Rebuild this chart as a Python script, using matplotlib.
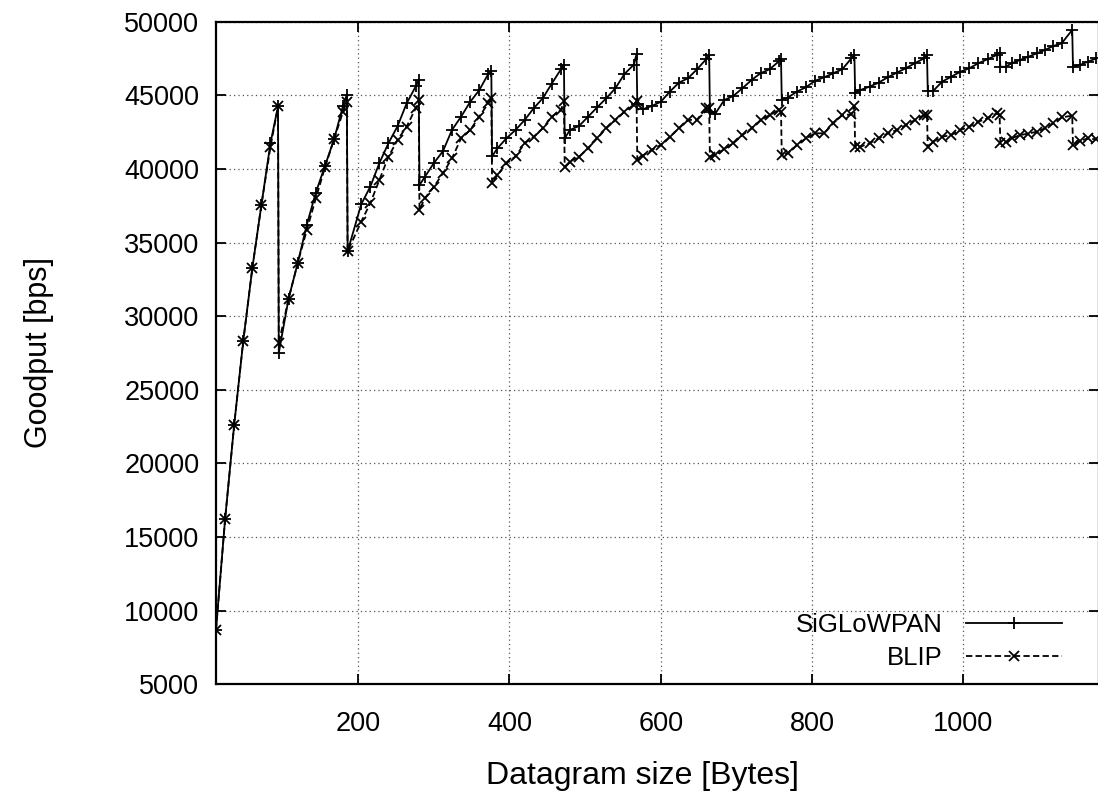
import matplotlib
matplotlib.use("Agg")
import matplotlib.pyplot as plt

plt.rcParams["font.family"] = ["Liberation Sans", "DejaVu Sans"]

sizes = [12, 24, 36, 48, 60, 72, 84, 94, 95,
         108, 120, 132, 144, 156, 168, 180, 185, 186,
         204, 216, 228, 240, 252, 264, 276, 280, 281,
         288, 300, 312, 324, 336, 348, 360, 372, 376, 377,
         384, 396, 408, 420, 432, 444, 456, 468, 472, 473,
         480, 492, 504, 516, 528, 540, 552, 564, 568, 569,
         576, 588, 600, 612, 624, 636, 648, 660, 664, 665,
         672, 684, 696, 708, 720, 732, 744, 756, 759, 760,
         768, 780, 792, 804, 816, 828, 840, 852, 856, 857,
         864, 876, 888, 900, 912, 924, 936, 948, 952, 953,
         960, 972, 984, 996, 1008, 1020, 1032, 1044, 1048, 1049,
         1056, 1064, 1075, 1086, 1097, 1108, 1119, 1130, 1144, 1145,
         1154, 1165, 1176]

siglowpan = [8700, 16200, 22600, 28300, 33250, 37550, 41750, 44250, 27500,
             31200, 33600, 36200, 38400, 40200, 42000, 44300, 45050, 34400,
             37600, 38800, 40400, 41750, 42900, 44450, 45600, 46050, 38900,
             39450, 40400, 41200, 42650, 43550, 44550, 45350, 46450, 46650, 40850,
             41400, 42080, 42650, 43320, 44120, 44800, 45800, 46770, 47060, 42080,
             42650, 42920, 43550, 44190, 44800, 45480, 46450, 47060, 47790, 44400,
             44050, 44270, 44560, 45250, 45860, 46160, 46770, 47450, 47740, 43850,
             43750, 44680, 44960, 45480, 46040, 46500, 46770, 47300, 47450, 44680,
             44850, 45250, 45550, 45990, 46220, 46500, 46770, 47510, 47740, 45180,
             45360, 45590, 45860, 46220, 46540, 46840, 47180, 47510, 47740, 45290,
             45290, 45930, 46260, 46600, 46840, 47180, 47450, 47740, 47890, 46940,
             46940, 47180, 47400, 47620, 47850, 48080, 48350, 48530, 49440, 46940,
             47060, 47290, 47510]

blip = [8700, 16200, 22600, 28300, 33250, 37550, 41500, 44250, 28150,
        31200, 33600, 35850, 38000, 40100, 42000, 43900, 44550, 34400,
        36420, 37670, 39250, 40830, 41970, 42870, 44120, 44680, 37210,
        38000, 38790, 39700, 40720, 42080, 42640, 43550, 44460, 44800, 39020,
        39590, 40380, 40850, 41740, 42190, 42760, 43550, 44000, 44610, 40150,
        40500, 40830, 41400, 42080, 42760, 43320, 43890, 44340, 44610, 40610,
        40900, 41290, 41630, 42190, 42760, 43320, 43350, 44120, 44120, 40830,
        40950, 41350, 41740, 42300, 42760, 43320, 43660, 44000, 43890, 40950,
        41060, 41630, 42080, 42420, 42420, 43100, 43660, 43700, 44270, 41510,
        41510, 41740, 42080, 42420, 42640, 42980, 43320, 43660, 43660, 41510,
        41850, 42190, 42300, 42640, 42870, 43210, 43440, 43780, 43660, 41780,
        41800, 42080, 42300, 42400, 42530, 42760, 43100, 43500, 43620, 41630,
        41900, 42080, 42000]

XTICKS = [200, 400, 600, 800, 1000]
YTICKS = list(range(5000, 50001, 5000))

fig = plt.figure(figsize=(10.98, 7.93), dpi=100)
ax = fig.add_axes([216 / 1098, 1 - 684.3 / 793, 883 / 1098, 662.6 / 793])

ax.plot(sizes, siglowpan, color="black", lw=1.3, marker="+", ms=9, mew=1.3,
        label="SiGLoWPAN")
ax.plot(sizes, blip, color="black", lw=1.3, ls=(0, (3.5, 1.8)), marker="x",
        ms=7.5, mew=1.3, label="BLIP")

ax.set_xlim(12, 1179.4)
ax.set_ylim(5000, 50000)
ax.set_xticks(XTICKS)
ax.set_yticks(YTICKS)
ax.tick_params(direction="in", length=7, width=1.3, labelsize=19.5,
               top=True, right=True)
ax.tick_params(axis="x", pad=19)
ax.tick_params(axis="y", pad=12)
ax.grid(True, color="#555555", ls=(0, (1, 2.5)), lw=0.9)
ax.set_axisbelow(True)
for s in ax.spines.values():
    s.set_linewidth(1.6)

ax.set_xlabel("Datagram size [Bytes]", fontsize=23)
ax.set_ylabel("Goodput [bps]", fontsize=22)
ax.xaxis.set_label_coords(0.4825, -0.116)
ax.yaxis.set_label_coords(-0.183, 0.5)

ax.legend(loc="lower right", bbox_to_anchor=(0.958, 0.021), frameon=False,
          markerfirst=False, handlelength=3.73, handletextpad=0.9,
          labelspacing=0.36, borderpad=0, borderaxespad=0, fontsize=18.5,
          numpoints=1)

fig.savefig("out.png", dpi=100)
